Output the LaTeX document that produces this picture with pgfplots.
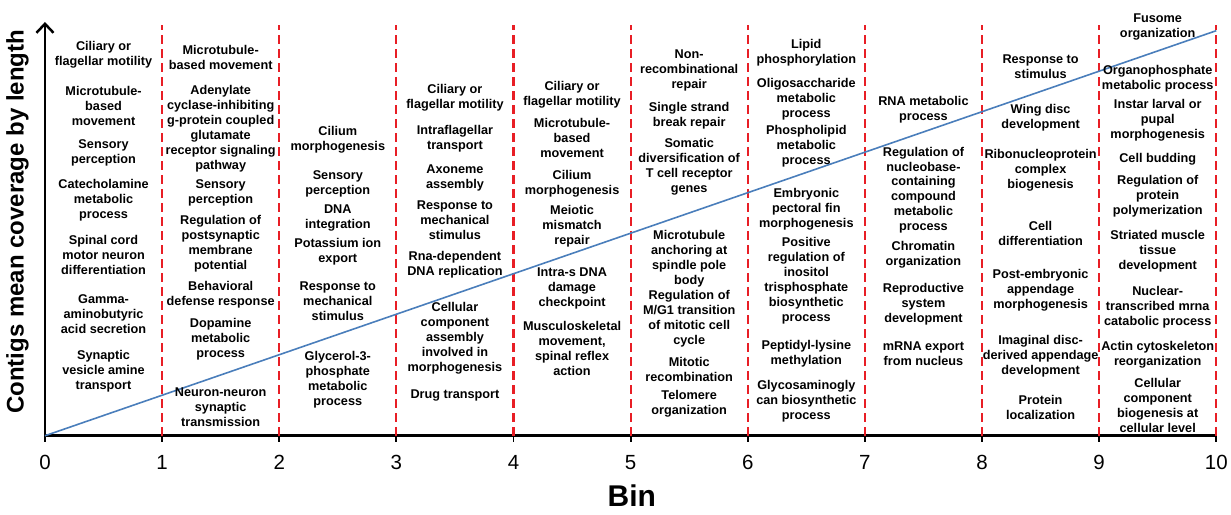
\documentclass[border=0pt]{standalone}
\usepackage{pgfplots}
\pgfplotsset{compat=1.18}
\usepackage{fontspec}
\setmainfont{Liberation Sans}
\usetikzlibrary{arrows.meta}
\definecolor{gored}{RGB}{232,30,37}
\definecolor{lineblue}{RGB}{74,126,187}
\newcommand{\lbl}[3]{\node[anchor=north,align=center,inner sep=0pt,font=\bfseries\fontsize{12.7}{15}\selectfont] at (axis cs:#1,#2) {#3};}
\pgfplotsset{redline/.style={gored, line width=2.2pt, dash pattern=on 9pt off 5pt}}
\begin{document}
\begin{tikzpicture}
\begin{axis}[
  at={(0,0)}, anchor=origin,
  scale only axis, width=1172pt, height=414pt,
  xmin=0, xmax=10, ymin=0, ymax=414,
  clip=false,
  axis x line*=bottom,
  axis y line*=left,
  y axis line style={line width=2.5pt,-{Straight Barb[length=9pt,width=17pt,line width=2.5pt]}},
  x axis line style={line width=2.5pt},
  xtick={0,1,2,3,4,5,6,7,8,9,10},
  ytick=\empty,
  tick align=outside,
  major tick length=6pt,
  xtick style={line width=2pt,black},
  xticklabel style={anchor=center, yshift=-21pt, font=\fontsize{20.5}{24}\selectfont},
  /pgf/number format/assume math mode=true,
]
\addplot[redline] coordinates {(1,0)(1,411)};
\addplot[redline] coordinates {(2,0)(2,411)};
\addplot[redline] coordinates {(3,0)(3,411)};
\addplot[redline] coordinates {(4,0)(4,411)};
\addplot[redline] coordinates {(5,0)(5,411)};
\addplot[redline] coordinates {(6,0)(6,411)};
\addplot[redline] coordinates {(7,0)(7,411)};
\addplot[redline] coordinates {(8,0)(8,411)};
\addplot[redline] coordinates {(9,0)(9,411)};
\addplot[redline] coordinates {(10,0)(10,411)};
\addplot[lineblue, line width=1.6pt] coordinates {(0,0)(10,405.3)};

% column 0
\lbl{0.5}{395.3}{Ciliary or\\flagellar motility}
\lbl{0.5}{350}{Microtubule-\\based\\movement}
\lbl{0.5}{296.7}{Sensory\\perception}
\lbl{0.5}{257}{Catecholamine\\metabolic\\process}
\lbl{0.5}{201}{Spinal cord\\motor neuron\\differentiation}
\lbl{0.5}{141.7}{Gamma-\\aminobutyric\\acid secretion}
\lbl{0.5}{86}{Synaptic\\vesicle amine\\transport}
% column 1
\lbl{1.5}{391}{Microtubule-\\based movement}
\lbl{1.5}{351}{Adenylate\\cyclase-inhibiting\\g-protein coupled\\glutamate\\receptor signaling\\pathway}
\lbl{1.5}{256}{Sensory\\perception}
\lbl{1.5}{221}{Regulation of\\postsynaptic\\membrane\\potential}
\lbl{1.5}{154.3}{Behavioral\\defense response}
\lbl{1.5}{118}{Dopamine\\metabolic\\process}
\lbl{1.5}{48}{Neuron-neuron\\synaptic\\transmission}
% column 2
\lbl{2.5}{310}{Cilium\\morphogenesis}
\lbl{2.5}{265.3}{Sensory\\perception}
\lbl{2.5}{231}{DNA\\integration}
\lbl{2.5}{197.7}{Potassium ion\\export}
\lbl{2.5}{154.3}{Response to\\mechanical\\stimulus}
\lbl{2.5}{84.3}{Glycerol-3-\\phosphate\\metabolic\\process}
% column 3
\lbl{3.5}{351.7}{Ciliary or\\flagellar motility}
\lbl{3.5}{311}{Intraflagellar\\transport}
\lbl{3.5}{271}{Axoneme\\assembly}
\lbl{3.5}{235.3}{Response to\\mechanical\\stimulus}
\lbl{3.5}{185}{Rna-dependent\\DNA replication}
\lbl{3.5}{133.3}{Cellular\\component\\assembly\\involved in\\morphogenesis}
\lbl{3.5}{46.7}{Drug transport}
% column 4
\lbl{4.5}{355}{Ciliary or\\flagellar motility}
\lbl{4.5}{317.7}{Microtubule-\\based\\movement}
\lbl{4.5}{266}{Cilium\\morphogenesis}
\lbl{4.5}{230.3}{Meiotic\\mismatch\\repair}
\lbl{4.5}{168.7}{Intra-s DNA\\damage\\checkpoint}
\lbl{4.5}{114.3}{Musculoskeletal\\movement,\\spinal reflex\\action}
% column 5
\lbl{5.5}{386.7}{Non-\\recombinational\\repair}
\lbl{5.5}{334.3}{Single strand\\break repair}
\lbl{5.5}{297.7}{Somatic\\diversification of\\T cell receptor\\genes}
\lbl{5.5}{206}{Microtubule\\anchoring at\\spindle pole\\body}
\lbl{5.5}{145.3}{Regulation of\\M/G1 transition\\of mitotic cell\\cycle}
\lbl{5.5}{78.7}{Mitotic\\recombination}
\lbl{5.5}{46}{Telomere\\organization}
% column 6
\lbl{6.5}{396.7}{Lipid\\phosphorylation}
\lbl{6.5}{357.7}{Oligosaccharide\\metabolic\\process}
\lbl{6.5}{311}{Phospholipid\\metabolic\\process}
\lbl{6.5}{247.7}{Embryonic\\pectoral fin\\morphogenesis}
\lbl{6.5}{198.7}{Positive\\regulation of\\inositol\\trisphosphate\\biosynthetic\\process}
\lbl{6.5}{95.3}{Peptidyl-lysine\\methylation}
\lbl{6.5}{55.3}{Glycosaminogly\\can biosynthetic\\process}
% column 7
\lbl{7.5}{340}{RNA metabolic\\process}
\lbl{7.5}{289.3}{Regulation of\\nucleobase-\\containing\\compound\\metabolic\\process}
\lbl{7.5}{194.3}{Chromatin\\organization}
\lbl{7.5}{152.7}{Reproductive\\system\\development}
\lbl{7.5}{94.3}{mRNA export\\from nucleus}
% column 8
\lbl{8.5}{381}{Response to\\stimulus}
\lbl{8.5}{332}{Wing disc\\development}
\lbl{8.5}{286.7}{Ribonucleoprotein\\complex\\biogenesis}
\lbl{8.5}{214.3}{Cell\\differentiation}
\lbl{8.5}{166.7}{Post-embryonic\\appendage\\morphogenesis}
\lbl{8.5}{101}{Imaginal disc-\\derived appendage\\development}
\lbl{8.5}{41}{Protein\\localization}
% column 9
\lbl{9.5}{422}{Fusome\\organization}
\lbl{9.5}{371}{Organophosphate\\metabolic process}
\lbl{9.5}{336.7}{Instar larval or\\pupal\\morphogenesis}
\lbl{9.5}{283.3}{Cell budding}
\lbl{9.5}{260.3}{Regulation of\\protein\\polymerization}
\lbl{9.5}{205.3}{Striated muscle\\tissue\\development}
\lbl{9.5}{149.3}{Nuclear-\\transcribed mrna\\catabolic process}
\lbl{9.5}{94.3}{Actin cytoskeleton\\reorganization}
\lbl{9.5}{57.7}{Cellular\\component\\biogenesis at\\cellular level}

\node[rotate=90, font=\bfseries\fontsize{24}{28}\selectfont] at (axis cs:-0.235,214) {Contigs mean coverage by length};
\node[font=\bfseries\fontsize{30}{34}\selectfont] at (axis cs:5.01,-60) {Bin};
\end{axis}
\path (-45pt,-79pt) rectangle (1186pt,436pt);
\end{tikzpicture}
\end{document}
